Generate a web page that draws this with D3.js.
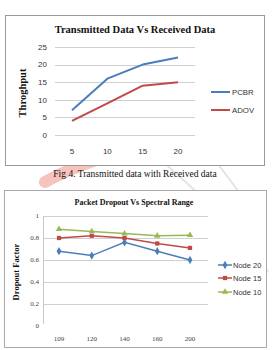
<!DOCTYPE html>
<html lang="en">
<head>
<meta charset="utf-8" />
<title>Transmitted vs Received / Packet Dropout</title>
<style>
  body { margin: 0; background: #fff; }
  svg text { font-family: "Liberation Sans", Arial, sans-serif; fill: #333; }
  .serif { font-family: "Liberation Serif", "Times New Roman", serif; fill: #111; }
  .grid line { stroke: #d0d0d0; stroke-width: 1; }
</style>
<script src="https://cdn.jsdelivr.net/npm/d3@7/dist/d3.min.js"></script>
</head>
<body>
<script>
// chart 1 data
var sizes = [5, 10, 15, 20];
var pcbr = [7, 16, 20, 22];
var adov = [4, 9, 14, 15];
var throughTicks = [0, 5, 10, 15, 20, 25];

// chart 2 data
var ranges = ["109", "120", "140", "160", "200"];
var node20 = [0.68, 0.64, 0.76, 0.68, 0.60];
var node15 = [0.80, 0.82, 0.80, 0.75, 0.71];
var node10 = [0.88, 0.86, 0.84, 0.82, 0.825];
var dropTicks = [0, 0.2, 0.4, 0.6, 0.8, 1];

var svg = d3.select("body").append("svg")
    .attr("width", 273).attr("height", 350);

// faint watermark, mostly hidden behind the white chart boxes
var wm = svg.append("g");
wm.append("path")
    .attr("d", "M45,182 C70,168 100,158 130,150")
    .attr("stroke", "#f6c4bd").attr("stroke-width", 12).attr("fill", "none")
    .attr("stroke-linecap", "round");
wm.append("path")
    .attr("d", "M150,150 L200,195 M215,160 L245,200 M230,330 L268,270")
    .attr("stroke", "#e4e4e4").attr("stroke-width", 2).attr("fill", "none");

// ---------- chart 1 ----------
var c1 = svg.append("g");
c1.append("rect").attr("x", 5.5).attr("y", 15.5).attr("width", 259).attr("height", 150)
    .attr("fill", "#fff").attr("stroke", "#999");

c1.append("text").attr("class", "serif")
    .attr("x", 135).attr("y", 33).attr("text-anchor", "middle")
    .style("font-size", "10.5px").style("font-weight", "bold")
    .text("Transmitted Data Vs Received Data");

var x1 = d3.scalePoint().domain(sizes).range([72, 178]);
var y1 = d3.scaleLinear().domain([0, 25]).range([135, 47]);

c1.append("g").attr("class", "grid")
    .selectAll("line").data(throughTicks).enter().append("line")
    .attr("x1", 55).attr("x2", 195)
    .attr("y1", function(d) { return Math.round(y1(d)) + 0.5; })
    .attr("y2", function(d) { return Math.round(y1(d)) + 0.5; });

c1.append("g").selectAll("text").data(throughTicks).enter().append("text")
    .attr("x", 47).attr("y", function(d) { return y1(d); }).attr("dy", "0.35em")
    .attr("text-anchor", "end").style("font-size", "8px")
    .text(function(d) { return d; });

c1.append("g").selectAll("text").data(sizes).enter().append("text")
    .attr("x", function(d) { return x1(d); }).attr("y", 154)
    .attr("text-anchor", "middle").style("font-size", "8px")
    .text(function(d) { return d; });

c1.append("text").attr("class", "serif")
    .attr("transform", "translate(26,93) rotate(-90)")
    .attr("text-anchor", "middle")
    .style("font-size", "10.5px").style("font-weight", "bold")
    .text("Throghput");

var line1 = d3.line()
    .x(function(d, i) { return x1(sizes[i]); })
    .y(function(d) { return y1(d); });

var series1 = [
  { name: "PCBR", values: pcbr, color: "#4a7ebb", ly: 92 },
  { name: "ADOV", values: adov, color: "#be4b48", ly: 110 }
];
series1.forEach(function(s) {
  c1.append("path").attr("d", line1(s.values))
      .attr("fill", "none").attr("stroke", s.color).attr("stroke-width", 2)
      .attr("stroke-linejoin", "round");
  c1.append("line").attr("x1", 211).attr("x2", 230).attr("y1", s.ly).attr("y2", s.ly)
      .attr("stroke", s.color).attr("stroke-width", 2);
  c1.append("text").attr("x", 232).attr("y", s.ly).attr("dy", "0.35em")
      .style("font-size", "7.8px").text(s.name);
});

// caption
svg.append("text").attr("class", "serif")
    .attr("x", 135).attr("y", 177).attr("text-anchor", "middle")
    .style("font-size", "9.5px")
    .text("Fig 4. Transmitted data with Received data");

// ---------- chart 2 ----------
var c2 = svg.append("g");
c2.append("rect").attr("x", 4.5).attr("y", 190.5).attr("width", 262).attr("height", 157)
    .attr("fill", "#fff").attr("stroke", "#aaa");

c2.append("text").attr("class", "serif")
    .attr("x", 134).attr("y", 205).attr("text-anchor", "middle")
    .style("font-size", "8px").style("font-weight", "bold")
    .text("Packet Dropout Vs Spectral Range");

var x2 = d3.scalePoint().domain(ranges).range([59, 190]);
var y2 = d3.scaleLinear().domain([0, 1]).range([326, 216]);

c2.append("g").attr("class", "grid")
    .selectAll("line").data(dropTicks.filter(function(d) { return d > 0; })).enter().append("line")
    .attr("x1", 43).attr("x2", 208)
    .attr("y1", function(d) { return Math.round(y2(d)) + 0.5; })
    .attr("y2", function(d) { return Math.round(y2(d)) + 0.5; });

c2.append("line").attr("x1", 43.5).attr("x2", 43.5).attr("y1", 216).attr("y2", 324)
    .attr("stroke", "#c8c8c8");

c2.append("g").selectAll("text").data(dropTicks).enter().append("text").attr("class", "serif")
    .attr("x", 39).attr("y", function(d) { return y2(d); }).attr("dy", "0.35em")
    .attr("text-anchor", "end").style("font-size", "7px").style("fill", "#444")
    .text(function(d) { return d; });

c2.append("g").selectAll("text").data(ranges).enter().append("text").attr("class", "serif")
    .attr("x", function(d) { return x2(d); }).attr("y", 341)
    .attr("text-anchor", "middle").style("font-size", "7px").style("fill", "#444")
    .text(function(d) { return d; });

c2.append("text").attr("class", "serif")
    .attr("transform", "translate(19,272) rotate(-90)")
    .attr("text-anchor", "middle")
    .style("font-size", "8.5px").style("font-weight", "bold")
    .text("Dropout Factor");

var line2 = d3.line()
    .x(function(d, i) { return x2(ranges[i]); })
    .y(function(d) { return y2(d); });

var series2 = [
  { name: "Node 20", values: node20, color: "#4a7ebb", shape: d3.symbolDiamond, size: 20, ly: 265 },
  { name: "Node 15", values: node15, color: "#be4b48", shape: d3.symbolSquare, size: 18, ly: 278 },
  { name: "Node 10", values: node10, color: "#98b954", shape: d3.symbolTriangle, size: 18, ly: 292 }
];
series2.forEach(function(s) {
  c2.append("path").attr("d", line2(s.values))
      .attr("fill", "none").attr("stroke", s.color).attr("stroke-width", 1.5);
  var sym = d3.symbol().type(s.shape).size(s.size);
  c2.append("g").selectAll("path").data(s.values).enter().append("path")
      .attr("d", sym)
      .attr("transform", function(d, i) { return "translate(" + x2(ranges[i]) + "," + y2(d) + ")"; })
      .attr("fill", s.color);
  c2.append("line").attr("x1", 218).attr("x2", 232).attr("y1", s.ly).attr("y2", s.ly)
      .attr("stroke", s.color).attr("stroke-width", 1.5);
  c2.append("path").attr("d", sym).attr("transform", "translate(225," + s.ly + ")")
      .attr("fill", s.color);
  c2.append("text").attr("x", 233).attr("y", s.ly).attr("dy", "0.35em")
      .style("font-size", "7.5px").text(s.name);
});
</script>
</body>
</html>
